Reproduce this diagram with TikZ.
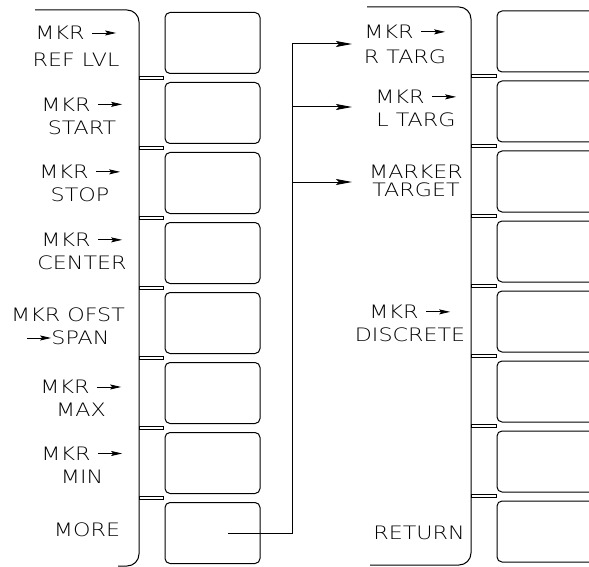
\documentclass[tikz,border=0pt]{standalone}
\usepackage{fontspec}
\IfFontExistsTF{DejaVu Sans ExtraLight}{\setmainfont{DejaVu Sans ExtraLight}[FakeStretch=1.2]}{\setmainfont{DejaVu Sans}[FakeStretch=1.2]}
\usetikzlibrary{arrows.meta}
\newcommand\mkarr{\tikz[baseline=0pt]\draw[line width=0.8pt,-{Stealth[length=11pt,width=5pt,inset=2pt]}] (0pt,0.365em) -- (1.3em,0.365em);}
\begin{document}
\begin{tikzpicture}[x=1pt,y=-1pt,line width=1pt,
  btn/.style={draw,rounded corners=5pt,minimum height=61pt,inner sep=0pt},
  lbtn/.style={btn,minimum width=95pt},
  rbtn/.style={btn,minimum width=124pt},
  lbl/.style={align=center,inner sep=0pt,font=\fontsize{18.5}{23}\selectfont},
  tab/.style={draw,line width=0.6pt},
  panel/.style={draw,rounded corners=12pt},
  conn/.style={line width=1pt},
  tip/.style={-{Stealth[length=16pt,width=6pt,inset=3pt]}}]
\useasboundingbox (0,0) rectangle (589,567);
\clip (0,0) rectangle (589,567);
% panels
\draw[panel] (35,10) -- (139,10) -- (139,566) -- (118,566);
\draw[panel] (367,7) -- (471,7) -- (471,565) -- (370,565);
% left buttons
\foreach \i/\y in {1/43,2/113,3/183,4/253,5/323,6/393,7/463,8/533}
  \node[lbtn] (lb\i) at (212.5,\y) {};
% right buttons
\foreach \i/\y in {1/41.5,2/111.5,3/181.5,4/251.5,5/321.5,6/391.5,7/461.5,8/531.5}
  \node[rbtn] (rb\i) at (559,\y) {};
% tabs
\foreach \y in {78,148,218,288,358,428,498}
  \draw[tab] (139,\y-1.3) rectangle (163,\y+1.3);
\foreach \y in {76,146,216,286,356,426,496}
  \draw[tab] (471,\y-1.3) rectangle (496,\y+1.3);
% left labels
\node[lbl,font=\fontsize{18.5}{27}\selectfont] (l1) at (76,46.5) {MKR \mkarr\\REF LVL};
\node[lbl] (l2) at (82,116) {MKR \mkarr\\START};
\node[lbl] (l3) at (80,183.5) {MKR \mkarr\\STOP};
\node[lbl] (l4) at (82,251.5) {MKR \mkarr\\CENTER};
\node[lbl] (l5) at (68,326.5) {MKR OFST\\\mkarr SPAN};
\node[lbl] (l6) at (81,398.5) {MKR \mkarr\\MAX};
\node[lbl] (l7) at (82,465) {MKR \mkarr\\MIN};
\node[lbl] (l8) at (87,530) {MORE};
% right labels
\node[lbl,font=\fontsize{18.5}{25}\selectfont] (r1) at (405,44.5) {MKR \mkarr\\R TARG};
\node[lbl] (r2) at (416,108.5) {MKR \mkarr\\L TARG};
\node[lbl,font=\fontsize{18.5}{18}\selectfont] (r3) at (416,181) {MARKER\\TARGET};
\node[lbl] (r5) at (410,323.5) {MKR \mkarr\\DISCRETE};
\node[lbl] (r8) at (419,533) {RETURN};
% connector
\coordinate (m) at (228,533);
\coordinate (j) at (292,44);
\coordinate (t1) at (352,44);
\coordinate (t2) at (352,107);
\coordinate (t3) at (352,182);
\draw[conn] (m) -| (j);
\draw[conn,tip] (j) -- (t1);
\draw[conn,tip] (j |- t2) -- (t2);
\draw[conn,tip] (j |- t3) -- (t3);
\end{tikzpicture}
\end{document}
